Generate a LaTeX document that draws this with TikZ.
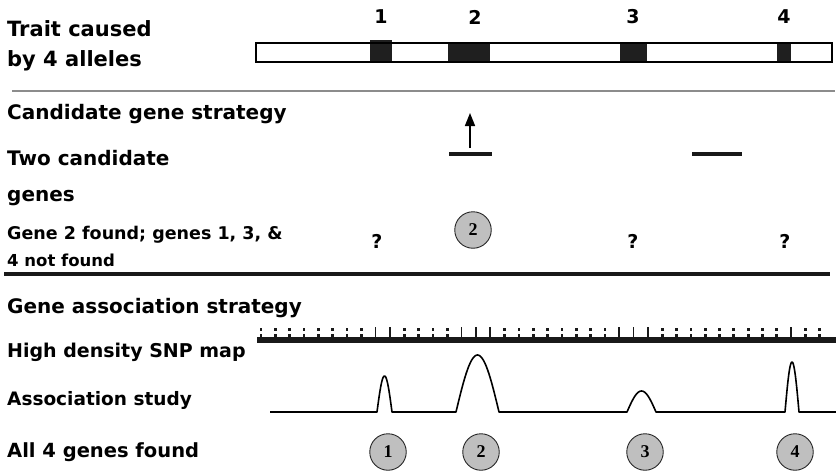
\documentclass[tikz,border=0pt]{standalone}
\usepackage{fontspec}
\setmainfont{DejaVu Sans}[BoldFont={DejaVu Sans Bold}]
\newfontfamily\numfont{Liberation Serif}
\usetikzlibrary{arrows.meta}
\begin{document}
\begin{tikzpicture}[x=1pt,y=-1pt,
  lbl/.style={anchor=base west, inner sep=0pt, font=\fontsize{20}{23}\selectfont\bfseries},
  slbl/.style={anchor=base west, inner sep=0pt, font=\fontsize{17.5}{20}\selectfont\bfseries},
  toplbl/.style={inner sep=0pt, font=\fontsize{19}{21}\selectfont\bfseries},
  qmark/.style={inner sep=0pt, font=\fontsize{19}{21}\selectfont\bfseries},
  genecirc/.style={circle, draw=black!85, line width=0.9pt, fill=black!25, minimum size=36.5pt, inner sep=0pt, font=\numfont\fontsize{18}{20}\selectfont\bfseries},
  block/.style={fill=black!88, draw=none},
  peak/.style={line width=1.6pt, line join=round},
]
\useasboundingbox (0,0) rectangle (836,471);

% ---- labels on the left
\node[lbl, font=\fontsize{21}{24}\selectfont\bfseries] (t1) at (7,36) {Trait caused};
\node[lbl, font=\fontsize{21}{24}\selectfont\bfseries] (t2) at (7,66) {by 4 alleles};
\node[lbl] (c1) at (7,119) {Candidate gene strategy};
\node[lbl] (c2) at (7,165) {Two candidate};
\node[lbl] (c3) at (7,201) {genes};
\node[slbl] (c4) at (7,239) {Gene 2 found; genes 1, 3, \&};
\node[slbl, font=\fontsize{16.5}{19}\selectfont\bfseries] (c5) at (7,266) {4 not found};
\node[lbl] (g1) at (7,313) {Gene association strategy};
\node[lbl, font=\fontsize{19}{22}\selectfont\bfseries] (g2) at (7,357) {High density SNP map};
\node[lbl, font=\fontsize{18.5}{21}\selectfont\bfseries] (g3) at (7,405) {Association study};
\node[lbl, font=\fontsize{19.5}{22}\selectfont\bfseries] (g4) at (7,457) {All 4 genes found};

% ---- top chromosome bar
\draw[line width=2pt, fill=white] (256,43) rectangle (832,62);
\fill[block] (370,40) rectangle (392,62);
\fill[block] (448,43) rectangle (490,62);
\fill[block] (620,43) rectangle (647,62);
\fill[block] (777,43) rectangle (791,62);
\draw[line width=2pt] (256,43) rectangle (832,62);
\node[toplbl] (n1) at (381,17) {1};
\node[toplbl] (n2) at (475,17) {2};
\node[toplbl] (n3) at (633,17) {3};
\node[toplbl] (n4) at (784,17) {4};

% ---- separators
\coordinate (s1a) at (12,91); \coordinate (s1b) at (835,91);
\draw[line width=2pt, black!45] (s1a) -- (s1b);
\coordinate (s2a) at (4,274); \coordinate (s2b) at (830,274);
\draw[line width=3.5pt, black!90] (s2a) -- (s2b);

% ---- candidate gene strategy
\coordinate (cg1a) at (449,154); \coordinate (cg1b) at (492,154);
\coordinate (cg2a) at (692,154); \coordinate (cg2b) at (742,154);
\draw[line width=3.5pt, black!90] (cg1a) -- (cg1b);
\draw[line width=3.5pt, black!90] (cg2a) -- (cg2b);
\coordinate (arS) at (470,148); \coordinate (arT) at (470,113);
\draw[line width=1.6pt, -{Triangle[length=13pt,width=10pt]}] (arS) -- (arT);
\node[qmark] (q1) at (377,241) {?};
\node[genecirc] (cc2) at (473,230) {2};
\node[qmark] (q3) at (633,241) {?};
\node[qmark] (q4) at (785,241) {?};

% ---- SNP map
\coordinate (snpA) at (257,340); \coordinate (snpB) at (836,340);
\draw[line width=6pt, black!90] (snpA) -- (snpB);
\foreach \k in {8,9,14,15,16,25,26,27,37}
  \draw[line width=1.6pt, black!90] ({261+14.33*\k},327) -- ({261+14.33*\k},339);
\foreach \k in {0,1,2,3,4,5,6,7,10,11,12,13,17,18,19,20,21,22,23,24,28,29,30,31,32,33,34,35,36,38,39} {
  \fill[black!90] ({261+14.33*\k-1.4},328) rectangle ({261+14.33*\k+1.4},331);
  \fill[black!90] ({261+14.33*\k-1.4},333.5) rectangle ({261+14.33*\k+1.4},336.5);
}

% ---- association study curve
\coordinate (bl0) at (270,412);
\coordinate (p1a) at (377,412); \coordinate (p1b) at (392,412);
\coordinate (p2a) at (456,412); \coordinate (p2b) at (499,412);
\coordinate (p3a) at (627,412); \coordinate (p3b) at (656,412);
\coordinate (p4a) at (785,412); \coordinate (p4b) at (799,412);
\coordinate (bl1) at (836,412);
\draw[peak] (bl0) -- (p1a)
  -- plot[domain=0:180, samples=31, variable=\t] ({377+15*\t/180},{412-36*sin(\t)})
  -- (p2a)
  -- plot[domain=0:180, samples=31, variable=\t] ({456+43*\t/180},{412-57*sin(\t)})
  -- (p3a)
  -- plot[domain=0:180, samples=31, variable=\t] ({627+29*\t/180},{412-21*sin(\t)})
  -- (p4a)
  -- plot[domain=0:180, samples=31, variable=\t] ({785+14*\t/180},{412-50*sin(\t)})
  -- (bl1);

% ---- all genes found
\node[genecirc] (f1) at (388,452) {1};
\node[genecirc] (f2) at (481,452) {2};
\node[genecirc] (f3) at (645,452) {3};
\node[genecirc] (f4) at (795,452) {4};
\end{tikzpicture}
\end{document}
